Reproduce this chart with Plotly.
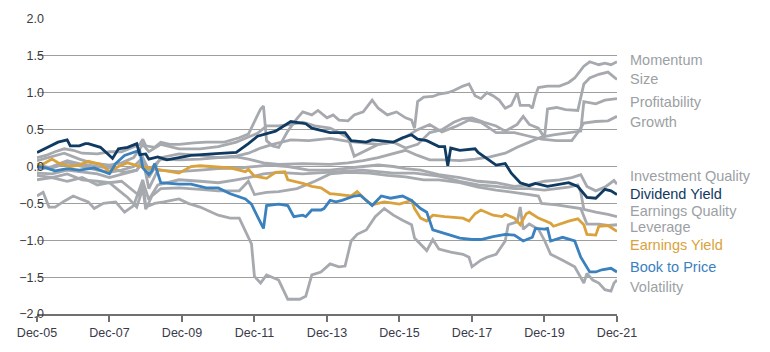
import pandas as pd
import plotly.graph_objects as go

# months elapsed since Dec-05 and factor values (z-score style)
series_names = ["Momentum", "Size", "Profitability", "Growth", "Investment Quality",
                "Dividend Yield", "Earnings Quality", "Leverage", "Earnings Yield",
                "Book to Price", "Volatility"]

momentum_m = [0, 3, 6, 9, 12, 15, 20, 24, 28, 31, 34, 35, 36, 39, 41, 44, 47, 52, 56, 62, 67, 70, 72, 74, 75, 76, 78, 80, 83, 86, 88, 91, 93, 96, 98, 100, 103, 105, 108, 111, 113, 116, 119, 122, 124, 125, 126, 128, 131, 133, 136, 138, 141, 143, 145, 147, 149, 151, 153, 155, 157, 159, 160, 163, 164, 165, 166, 169, 173, 176, 178, 181, 183, 186, 188, 190, 192]
momentum_v = [0.12, 0.15, 0.2, 0.24, 0.22, 0.18, 0.17, 0.2, 0.2, 0.25, 0.3, 0.37, 0.28, 0.26, 0.33, 0.3, 0.3, 0.32, 0.33, 0.33, 0.39, 0.44, 0.6, 0.78, 0.82, 0.35, 0.28, 0.26, 0.48, 0.65, 0.74, 0.7, 0.76, 0.66, 0.7, 0.63, 0.62, 0.7, 0.74, 0.9, 0.79, 0.7, 0.74, 0.66, 0.63, 0.52, 0.88, 0.94, 0.95, 0.98, 1.0, 1.03, 1.09, 1.12, 0.96, 0.92, 1.0, 0.96, 0.9, 0.79, 0.83, 1.0, 0.83, 0.83, 0.79, 0.96, 1.07, 1.09, 1.09, 1.14, 1.2, 1.36, 1.42, 1.38, 1.4, 1.38, 1.42]

size_m = [0, 4, 9, 14, 18, 24, 28, 32, 35, 37, 41, 47, 54, 60, 66, 70, 73, 76, 80, 84, 88, 92, 97, 100, 103, 105, 108, 113, 118, 122, 126, 130, 134, 138, 141, 144, 148, 152, 155, 157, 159, 161, 163, 166, 168, 169, 172, 175, 179, 181, 183, 186, 189, 192]
size_v = [0.08, 0.12, 0.18, 0.1, 0.05, 0.02, 0.05, 0.12, 0.3, 0.2, 0.3, 0.24, 0.24, 0.27, 0.33, 0.4, 0.45, 0.55, 0.55, 0.57, 0.6, 0.55, 0.52, 0.46, 0.39, 0.14, 0.2, 0.3, 0.33, 0.25, 0.3, 0.46, 0.5, 0.6, 0.65, 0.66, 0.6, 0.55, 0.48, 0.52, 0.57, 0.68, 0.57, 0.52, 0.39, 0.78, 0.8, 0.77, 0.76, 1.12, 1.2, 1.25, 1.28, 1.18]

profit_m = [0, 5, 10, 15, 20, 24, 29, 33, 35, 37, 41, 47, 54, 60, 66, 70, 75, 80, 88, 97, 103, 108, 113, 118, 122, 126, 130, 135, 140, 145, 150, 155, 159, 163, 167, 171, 176, 180, 181, 185, 188, 192]
profit_v = [-0.05, 0.0, 0.08, 0.03, 0.0, -0.02, -0.08, -0.05, 0.05, -0.15, 0.12, 0.17, 0.15, 0.12, 0.13, 0.1, 0.05, 0.03, 0.04, 0.03, 0.05, 0.08, 0.12, 0.18, 0.22, 0.15, 0.09, 0.09, 0.08, 0.1, 0.13, 0.18, 0.26, 0.33, 0.4, 0.43, 0.46, 0.48, 0.88, 0.85, 0.9, 0.92]

growth_m = [0, 5, 10, 15, 20, 24, 28, 32, 35, 37, 41, 47, 54, 60, 66, 70, 74, 78, 84, 90, 97, 103, 108, 113, 118, 122, 126, 130, 134, 139, 143, 147, 152, 158, 163, 167, 172, 177, 179, 181, 185, 189, 192]
growth_v = [0.02, -0.02, 0.05, 0.0, -0.05, -0.08, -0.05, 0.0, 0.12, -0.05, 0.1, 0.09, 0.1, 0.12, 0.14, 0.18, 0.25, 0.3, 0.36, 0.35, 0.38, 0.34, 0.32, 0.3, 0.33, 0.4, 0.5, 0.57, 0.47, 0.55, 0.63, 0.6, 0.46, 0.46, 0.41, 0.37, 0.35, 0.35, 0.46, 0.59, 0.61, 0.62, 0.68]

invq_m = [0, 5, 10, 15, 20, 24, 29, 33, 35, 37, 40, 47, 54, 60, 67, 72, 77, 83, 90, 97, 103, 108, 113, 118, 122, 127, 133, 140, 146, 152, 158, 163, 168, 173, 177, 180, 182, 185, 188, 190, 191, 192]
invq_v = [-0.09, -0.1, -0.05, -0.08, -0.1, -0.15, -0.1, -0.05, 0.1, -0.3, -0.05, -0.07, -0.05, -0.03, -0.02, 0.0, 0.02, 0.0, -0.05, -0.05, -0.02, 0.0, 0.02, 0.0, -0.03, -0.05, -0.11, -0.15, -0.2, -0.22, -0.27, -0.25, -0.2, -0.18, -0.15, -0.11, -0.27, -0.33, -0.28, -0.22, -0.19, -0.24]

divy_m = [0, 7, 10, 11, 14, 16, 17, 21, 24, 25, 27, 30, 33, 34, 36, 37, 40, 43, 47, 51, 58, 66, 70, 73, 79, 84, 89, 91, 97, 102, 104, 109, 111, 118, 121, 124, 126, 129, 133, 135, 136, 137, 140, 145, 146, 149, 152, 155, 157, 160, 163, 165, 169, 176, 179, 182, 185, 188, 190, 192]
divy_v = [0.19, 0.33, 0.36, 0.28, 0.28, 0.31, 0.31, 0.26, 0.15, 0.11, 0.24, 0.26, 0.31, 0.16, 0.17, 0.1, 0.13, 0.09, 0.12, 0.15, 0.17, 0.19, 0.31, 0.41, 0.48, 0.61, 0.58, 0.52, 0.46, 0.46, 0.35, 0.33, 0.36, 0.33, 0.39, 0.43, 0.37, 0.35, 0.27, 0.27, 0.01, 0.25, 0.22, 0.24, 0.19, 0.11, 0.02, 0.04, -0.09, -0.22, -0.26, -0.23, -0.27, -0.22, -0.27, -0.42, -0.43, -0.31, -0.33, -0.38]

eq_m = [0, 5, 10, 15, 20, 24, 28, 31, 34, 35, 37, 40, 47, 54, 60, 66, 70, 75, 80, 88, 97, 103, 108, 113, 118, 125, 133, 140, 146, 152, 158, 163, 168, 172, 176, 179, 180, 181, 185, 189, 192]
eq_v = [-0.12, -0.15, -0.1, -0.18, -0.2, -0.22, -0.2, -0.3, -0.4, -0.2, -0.45, -0.25, -0.18, -0.2, -0.22, -0.18, -0.15, -0.1, -0.08, -0.1, -0.08, -0.06, -0.05, -0.07, -0.09, -0.09, -0.13, -0.2, -0.25, -0.27, -0.3, -0.3, -0.32, -0.3, -0.28, -0.25, -0.35, -0.58, -0.62, -0.65, -0.68]

lev_m = [0, 5, 10, 15, 20, 24, 27, 30, 33, 35, 36, 38, 41, 47, 54, 60, 67, 70, 72, 76, 80, 86, 92, 97, 103, 110, 116, 122, 128, 133, 140, 146, 152, 158, 163, 166, 167, 172, 177, 180, 182, 186, 189, 192]
lev_v = [-0.18, -0.15, -0.2, -0.15, -0.25, -0.22, -0.32, -0.42, -0.55, -0.3, -0.58, -0.4, -0.3, -0.29, -0.31, -0.33, -0.33, -0.2, -0.38, -0.35, -0.34, -0.3, -0.2, -0.1, -0.08, -0.09, -0.12, -0.14, -0.18, -0.18, -0.22, -0.28, -0.32, -0.35, -0.38, -0.4, -0.5, -0.52, -0.55, -0.57, -0.78, -0.78, -0.8, -0.79]

ey_m = [0, 1, 5, 7, 11, 14, 17, 21, 24, 27, 30, 34, 37, 41, 47, 51, 54, 64, 69, 70, 72, 76, 79, 82, 83, 88, 91, 94, 97, 98, 104, 106, 109, 111, 115, 120, 124, 125, 127, 129, 131, 135, 141, 143, 145, 147, 151, 154, 155, 158, 160, 162, 163, 166, 170, 171, 176, 179, 181, 182, 185, 186, 189, 192]
ey_v = [0.04, 0.01, 0.1, 0.05, 0.0, 0.02, 0.07, 0.03, -0.07, 0.0, 0.05, 0.0, -0.02, -0.05, -0.09, 0.0, 0.01, -0.02, -0.07, -0.04, -0.13, -0.16, -0.08, -0.07, -0.18, -0.23, -0.27, -0.29, -0.37, -0.37, -0.4, -0.34, -0.46, -0.52, -0.48, -0.51, -0.46, -0.57, -0.7, -0.74, -0.66, -0.68, -0.7, -0.74, -0.64, -0.59, -0.66, -0.68, -0.65, -0.7, -0.79, -0.64, -0.62, -0.7, -0.77, -0.81, -0.74, -0.71, -0.79, -0.92, -0.93, -0.81, -0.8, -0.88]

btp_m = [0, 3, 6, 10, 14, 19, 24, 26, 29, 33, 34, 35, 37, 38, 39, 41, 47, 51, 56, 60, 64, 69, 71, 73, 75, 76, 80, 83, 85, 88, 89, 91, 94, 95, 97, 99, 101, 105, 107, 111, 114, 117, 121, 124, 127, 129, 131, 136, 140, 144, 147, 151, 155, 158, 161, 164, 165, 168, 169, 170, 174, 178, 180, 183, 185, 187, 190, 192]
btp_v = [0.0, -0.02, -0.06, -0.03, -0.05, -0.02, -0.1, 0.04, 0.15, 0.21, 0.22, -0.02, -0.11, -0.06, 0.04, -0.22, -0.24, -0.24, -0.29, -0.29, -0.37, -0.44, -0.51, -0.68, -0.84, -0.53, -0.51, -0.53, -0.68, -0.66, -0.68, -0.59, -0.59, -0.57, -0.46, -0.48, -0.46, -0.4, -0.39, -0.53, -0.4, -0.43, -0.4, -0.46, -0.57, -0.62, -0.86, -0.92, -0.97, -0.99, -0.99, -0.95, -0.92, -0.93, -1.01, -0.96, -0.84, -0.85, -0.84, -1.01, -0.96, -1.01, -1.23, -1.43, -1.43, -1.4, -1.38, -1.43]

vol_m = [0, 2, 4, 6, 9, 12, 15, 17, 19, 22, 26, 29, 32, 35, 36, 39, 42, 47, 50, 54, 60, 64, 67, 69, 71, 72, 74, 76, 78, 80, 83, 87, 89, 91, 94, 97, 100, 102, 104, 106, 109, 112, 115, 118, 121, 124, 125, 127, 129, 131, 133, 137, 141, 143, 144, 147, 149, 152, 155, 156, 159, 160, 161, 163, 166, 168, 170, 174, 178, 181, 182, 184, 186, 188, 190, 191, 192]
vol_v = [-0.4, -0.35, -0.55, -0.55, -0.47, -0.4, -0.45, -0.48, -0.57, -0.5, -0.48, -0.62, -0.53, -0.18, -0.55, -0.5, -0.48, -0.44, -0.5, -0.55, -0.66, -0.7, -0.7, -0.88, -1.05, -1.49, -1.58, -1.47, -1.5, -1.54, -1.8, -1.8, -1.76, -1.47, -1.43, -1.32, -1.36, -1.35, -1.01, -0.92, -0.86, -0.68, -0.57, -0.66, -0.73, -0.79, -0.97, -1.05, -1.14, -0.99, -1.12, -1.16, -1.19, -1.23, -1.36, -1.27, -1.23, -1.19, -1.01, -0.79, -0.75, -0.55, -0.85, -0.78, -0.85, -1.0, -1.19, -1.27, -1.36, -1.58, -1.45, -1.54, -1.58, -1.67, -1.69, -1.58, -1.54]

x_tick_labels = ["Dec-05", "Dec-07", "Dec-09", "Dec-11", "Dec-13", "Dec-15", "Dec-17", "Dec-19", "Dec-21"]
x_tick_months = [0, 24, 48, 72, 96, 120, 144, 168, 192]
y_tick_vals = [-2.0, -1.5, -1.0, -0.5, 0.0, 0.5, 1.0, 1.5, 2.0]

GRAY = "#a6a9ae"
NAVY = "#0f3a61"
GOLD = "#d9a23c"
BLUE = "#3b81be"
GRAY_TXT = "#9c9fa4"

START = pd.Timestamp("2005-12-01")


def to_dates(months):
    return [START + pd.DateOffset(months=int(m)) for m in months]


series = {
    "Momentum": (momentum_m, momentum_v, GRAY),
    "Size": (size_m, size_v, GRAY),
    "Profitability": (profit_m, profit_v, GRAY),
    "Growth": (growth_m, growth_v, GRAY),
    "Investment Quality": (invq_m, invq_v, GRAY),
    "Earnings Quality": (eq_m, eq_v, GRAY),
    "Leverage": (lev_m, lev_v, GRAY),
    "Volatility": (vol_m, vol_v, GRAY),
    "Earnings Yield": (ey_m, ey_v, GOLD),
    "Book to Price": (btp_m, btp_v, BLUE),
    "Dividend Yield": (divy_m, divy_v, NAVY),
}

fig = go.Figure()
for name, (mm, vv, col) in series.items():
    fig.add_trace(go.Scatter(x=to_dates(mm), y=vv, mode="lines", name=name,
                             line=dict(color=col, width=2.8), showlegend=False,
                             hoverinfo="skip"))

# end-of-line labels (layout positions)
label_y = {"Momentum": 1.44, "Size": 1.19, "Profitability": 0.875, "Growth": 0.61,
           "Investment Quality": -0.125, "Dividend Yield": -0.375, "Earnings Quality": -0.61,
           "Leverage": -0.82, "Earnings Yield": -1.07, "Book to Price": -1.36,
           "Volatility": -1.635}
label_col = {"Dividend Yield": NAVY, "Earnings Yield": GOLD, "Book to Price": BLUE}
for name in series_names:
    fig.add_annotation(xref="paper", yref="y", x=1.019, y=label_y[name], text=name,
                       showarrow=False, xanchor="left", yanchor="middle",
                       font=dict(size=14.5, color=label_col.get(name, GRAY_TXT)))

fig.update_layout(
    width=770, height=352,
    margin=dict(l=37, r=153, t=15, b=32),
    paper_bgcolor="white", plot_bgcolor="white",
    font=dict(family="Liberation Sans, Arial, sans-serif", size=12, color="#404040"),
)
fig.update_xaxes(type="date", range=[START, START + pd.DateOffset(months=192)],
                 tickvals=to_dates(x_tick_months), ticktext=x_tick_labels,
                 showgrid=False, zeroline=False, showline=True, linecolor="#707070",
                 linewidth=1.5, ticks="outside", ticklen=6, tickwidth=1.5,
                 tickcolor="#707070", tickfont=dict(size=12.5, color="#3a3a4a"))
fig.update_yaxes(range=[-2, 2], tickvals=y_tick_vals, tickformat=".1f",
                 showgrid=True, gridcolor="#9e9e9e", gridwidth=1, zeroline=False,
                 showline=False, ticks="", ticklen=0, ticklabelstandoff=-8,
                 tickfont=dict(size=12.5, color="#3a3a3a"))

fig.write_html("out.html")
